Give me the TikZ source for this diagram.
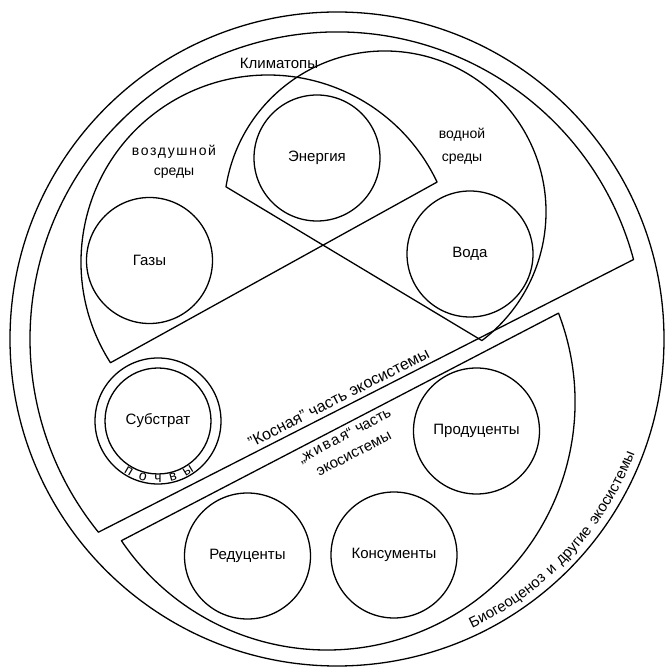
\documentclass[tikz,border=0pt]{standalone}
\usepackage{fontspec}
\setmainfont{Liberation Sans}
\newfontfamily\sperrfont{Liberation Sans}[LetterSpace=12]
\usetikzlibrary{calc,decorations.text}
\tikzset{
	linie/.style={line width=1.3pt, line join=round},
	block/.style={circle, draw, line width=1.3pt, minimum size=126pt, inner sep=0pt, font=\fontsize{15}{18}\selectfont},
	beschr/.style={align=center, inner sep=1pt, font=\fontsize{14}{20}\selectfont}
}
\begin{document}
\begin{tikzpicture}[x=1pt,y=1pt]
	\useasboundingbox (0,0) rectangle (665,672);
	% Biogeozönose und andere Ökosysteme
	\coordinate (mitte) at (337,333);
	\draw [linie] (mitte) circle [radius=327pt];
	\path [decorate, decoration={text along path, text align=center,
		text={|\fontsize{15}{18}\sperrfont|Биогеоценоз и другие экосистемы}}]
		($(mitte)+(-72:319pt)$) arc [start angle=-72, end angle=-14, radius=319pt];
	% unbelebter Teil
	\coordinate (kosR) at ($(mitte)+(15:307pt)$);
	\coordinate (kosL) at ($(mitte)+(219:307pt)$);
	\draw [linie] (kosR) arc [start angle=15, end angle=219, radius=307pt] -- cycle;
	\path (kosL) -- (kosR) node [pos=0.458, sloped, above=5pt, inner sep=0pt, font=\fontsize{16}{19}\selectfont] (kosT) {"Косная" часть экосистемы};
	% belebter Teil
	\coordinate (lebM) at (327,270);
	\coordinate (lebR) at ($(lebM)+(21:248pt)$);
	\coordinate (lebL) at ($(lebM)+(-146:248pt)$);
	\draw [linie] (lebR) arc [start angle=21, end angle=-146, radius=248pt] -- cycle;
	\path (lebL) -- (lebR) node [pos=0.5, sloped, below=3pt, beschr, font=\fontsize{15}{20}\selectfont] (lebT) {„{\sperrfont живая}“ часть\\экосистемы};
	% Luft
	\coordinate (luftM) at (268,410);
	\coordinate (luftL) at ($(luftM)+(212.6:187pt)$);
	\draw [linie] (luftL) arc [start angle=212.6, end angle=25.3, radius=187pt] -- cycle;
	% Wasser
	\coordinate (wasM) at (385,460);
	\coordinate (wasL) at ($(wasM)+(171:161pt)$);
	\draw [linie] (wasL) arc [start angle=171, end angle=-53, radius=161pt] -- cycle;
	% Beschriftungen
	\node [beschr, font=\fontsize{15}{18}\selectfont] (klima) at (279,609) {Климатопы};
	\node [beschr] (luftT) at (174,510) {{\sperrfont воздушной}\\среды};
	\node [beschr, font=\fontsize{14}{23}\selectfont] (wasT) at (462,526) {водной\\среды};
	% Kreise
	\node [block] (energie) at (317,514) {Энергия};
	\node [block] (gase) at (149.5,411.5) {Газы};
	\node [block] (wasser) at (470,418) {Вода};
	\node [block, minimum size=106pt] (substrat) at (158,251) {Субстрат};
	\draw [linie] (substrat.center) circle [radius=63pt];
	\path [decorate, decoration={text along path, text align={fit to path},
		text={|\fontsize{14}{16}\selectfont|почвы}}]
		($(substrat.center)+(236:61.5pt)$) arc [start angle=236, end angle=306, radius=61.5pt];
	\node [block] (produz) at (476.5,241) {Продуценты};
	\node [block] (reduz) at (247.5,116) {Редуценты};
	\node [block] (konsum) at (394,117) {Консументы};
\end{tikzpicture}
\end{document}
